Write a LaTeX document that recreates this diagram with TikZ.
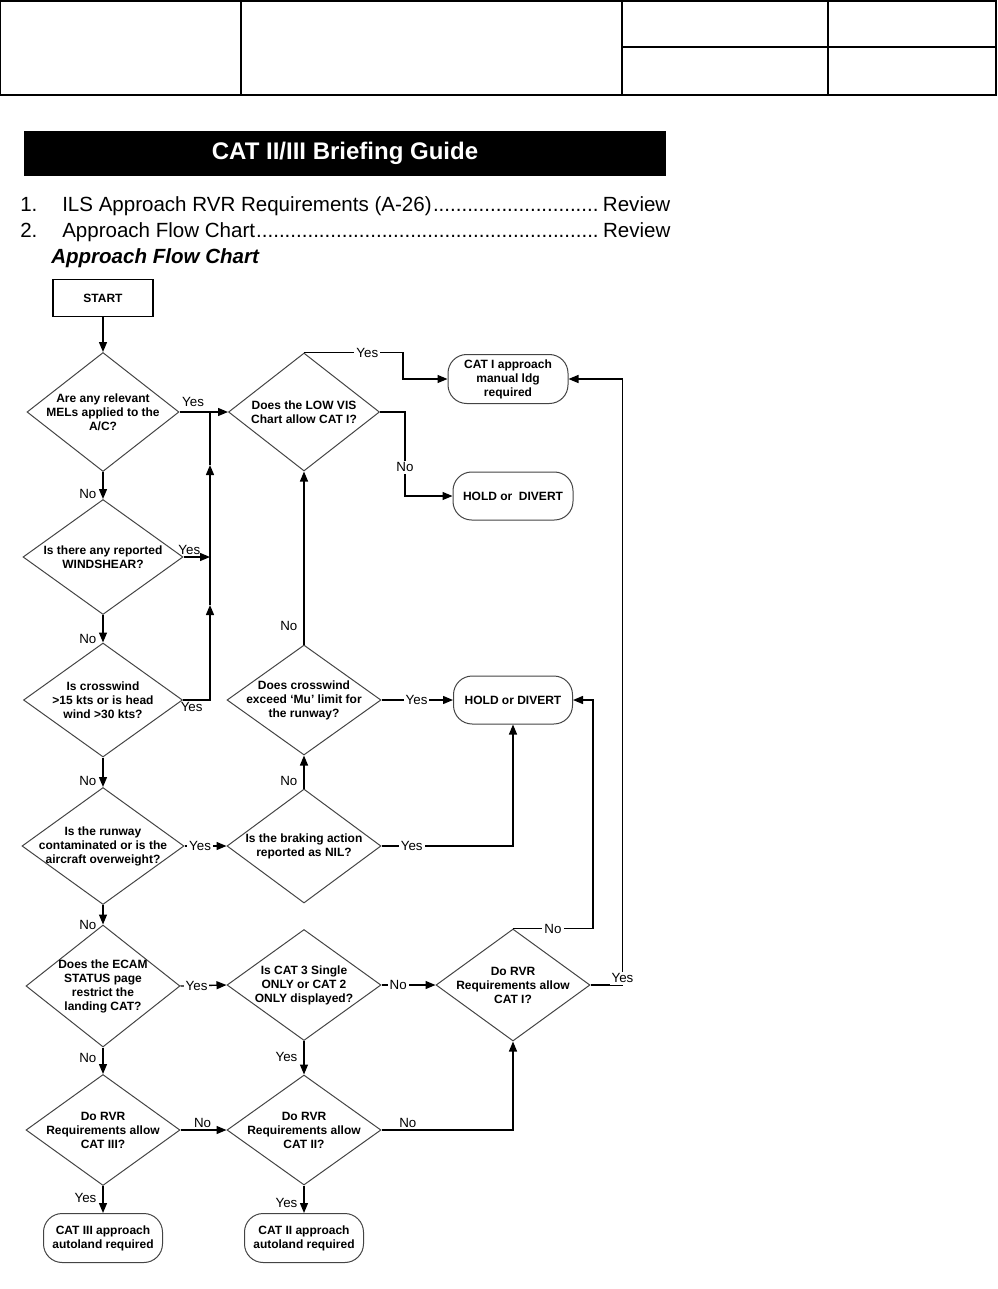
\documentclass[tikz,border=0pt]{standalone}
\usepackage{fontspec}
\setmainfont{Liberation Sans}
\usetikzlibrary{shapes.geometric,arrows.meta}
\definecolor{diagray}{HTML}{444444}
\newcommand\listfont{\fontsize{15.4}{18}\selectfont}
\newcommand\nodefont{\bfseries\fontsize{9}{10.5}\selectfont}
\tikzset{
  dia/.style 2 args={diamond, draw=diagray, line width=0.75pt, inner sep=0pt,
    minimum width=#1*0.75pt, minimum height=#2*0.75pt},
  dtext/.style={font=\nodefont, align=center, inner sep=0pt},
  term/.style 2 args={rectangle, rounded corners=14pt, draw=diagray, line width=0.75pt,
    minimum width=#1*0.75pt, minimum height=#2*0.75pt, align=center, inner sep=0pt, font=\nodefont},
  startbox/.style={rectangle, draw, line width=1pt, minimum width=100*0.75pt,
    minimum height=37*0.75pt, font=\nodefont},
  conn/.style={line width=1pt},
  arr/.style={conn, -{Triangle[length=7.5pt,width=6pt]}},
  lab/.style={font=\fontsize{10}{12}\selectfont, inner sep=1.5pt},
  labw/.style={lab, fill=white},
  vlab/.style={lab, left, xshift=-3pt},
}
\begin{document}
\begin{tikzpicture}[x=0.75pt,y=-0.75pt]
\useasboundingbox (0,0) rectangle (997,1289);
% header table
\draw[line width=1pt] (0.7,1) rectangle (996,95);
\draw[line width=1pt] (241,1) -- (241,95) (622,1) -- (622,95) (828,1) -- (828,95) (622,47) -- (996,47);
% title bar and list
\node[fill=black, minimum width=642*0.75pt, minimum height=45*0.75pt, inner sep=0pt,
      text=white, font=\bfseries\fontsize{18}{20}\selectfont] (title) at (345,153.5) {CAT II/III Briefing Guide};
\node[anchor=base west, inner sep=0pt, font=\listfont] (n1) at (20,211) {1.};
\node[anchor=base west, inner sep=0pt, font=\listfont] (i1) at (62,211)
  {\hbox to 456pt{ILS Approach RVR Requirements (A-26)\leaders\hbox{.}\hfill Review}};
\node[anchor=base west, inner sep=0pt, font=\listfont] (n2) at (20,237) {2.};
\node[anchor=base west, inner sep=0pt, font=\listfont] (i2) at (62,237)
  {\hbox to 456pt{Approach Flow Chart\leaders\hbox{.}\hfill Review}};
\node[anchor=base west, inner sep=0pt, font=\bfseries\itshape\fontsize{15.4}{18}\selectfont] (head) at (51,263) {Approach Flow Chart};

% flowchart nodes
\node[startbox] (start) at (103,298) {START};
\node[dia={152}{119}, label={[dtext]center:{Are any relevant\\MELs applied to the\\A/C?}}] (d1) at (103,412) {};
\node[dia={160}{115}, label={[dtext]center:{Is there any reported\\WINDSHEAR?}}] (d2) at (103,557) {};
\node[dia={159}{114}, label={[dtext]center:{Is crosswind\\>15 kts or is head\\wind >30 kts?}}] (d3) at (103,700) {};
\node[dia={162}{117}, label={[dtext]center:{Is the runway\\contaminated or is the\\aircraft overweight?}}] (d4) at (103,846) {};
\node[dia={154}{122}, label={[dtext]center:{Does the ECAM\\STATUS page\\restrict the\\landing CAT?}}] (d5) at (103,986) {};
\node[dia={154}{111}, label={[dtext]center:{Do RVR\\Requirements allow\\CAT III?}}] (d6) at (103,1130) {};
\node[term={119}{49}] (t1) at (103,1238) {CAT III approach\\autoland required};

\node[dia={151}{118}, label={[dtext]center:{Does the LOW VIS\\Chart allow CAT I?}}] (m1) at (304,412) {};
\node[dia={154}{110}, label={[dtext]center:{Does crosswind\\exceed ‘Mu’ limit for\\the runway?}}] (m2) at (304,700) {};
\node[dia={154}{114}, label={[dtext]center:{Is the braking action\\reported as NIL?}}] (m3) at (304,846) {};
\node[dia={154}{111}, label={[dtext]center:{Is CAT 3 Single\\ONLY or CAT 2\\ONLY displayed?}}] (m4) at (304,985) {};
\node[dia={154}{110}, label={[dtext]center:{Do RVR\\Requirements allow\\CAT II?}}] (m5) at (304,1130) {};
\node[term={119}{49}] (t2) at (304,1238) {CAT II approach\\autoland required};

\node[term={120}{49}] (r1) at (508,379) {CAT I approach\\manual ldg\\required};
\node[term={120}{48}] (r2) at (513,496) {HOLD or\ \ DIVERT};
\node[term={119}{48}] (r3) at (513,700) {HOLD or DIVERT};
\node[dia={154}{112}, label={[dtext]center:{Do RVR\\Requirements allow\\CAT I?}}] (r4) at (513,985) {};

% junction coordinates
\coordinate (j1) at (210,412);
\coordinate (j2) at (210,557);
\coordinate (ja) at (210,605);
\coordinate (jb) at (210,465);

% left column
\draw[arr] (start.south) -- (d1.north);
\draw[arr] (d1.south) -- node[vlab,pos=0.8]{No} (d2.north);
\draw[arr] (d2.south) -- node[vlab,pos=0.86]{No} (d3.north);
\draw[arr] (d3.south) -- node[vlab,pos=0.8]{No} (d4.north);
\draw[arr] (d4.south) -- node[vlab,pos=1]{No} (d5.north);
\draw[arr] (d5.south) -- node[vlab,pos=0.4]{No} (d6.north);
\draw[arr] (d6.south) -- node[vlab,pos=0.46]{Yes} (t1.north);

% Yes branches to the LOW VIS chart
\draw[arr] (d1.east) -- node[lab,above,pos=0.28,yshift=2pt]{Yes} (m1.west);
\draw[arr] (d2.east) -- node[lab,above,pos=0.22]{Yes} (j2);
\draw[arr] (d3.east) -| node[lab,below,pos=0.16]{Yes} (ja);
\draw[arr] (ja) -- (jb);
\draw[conn] (jb) -- (j1);

% middle column
\draw[arr] (d4.east) -- node[labw,pos=0.37]{Yes} (m3.west);
\draw[arr] (d5.east) -- node[labw,pos=0.35]{Yes} (m4.west);
\draw[arr] (d6.east) -- node[lab,above,pos=0.48]{No} (m5.west);
\draw[arr] (m3.north) -- node[vlab,pos=0.23]{No} (m2.south);
\draw[arr] (m2.north) -- node[vlab,pos=0.11]{No} (m1.south);
\draw[arr] (m4.south) -- node[vlab,pos=0.49]{Yes} (m5.north);
\draw[arr] (m5.south) -- node[vlab,pos=0.65]{Yes} (t2.north);

% to the right column
\draw[arr] (m1.north) -- node[labw,pos=0.64]{Yes} ++(99,0) |- (r1.west);
\draw[arr] (m1.east) -- ++(25,0) |- node[labw,pos=0.33]{No} (r2.west);
\draw[arr] (m2.east) -- node[labw,pos=0.49]{Yes} (r3.west);
\draw[arr] (m3.east) -| node[labw,pos=0.115]{Yes} (r3.south);
\draw[arr] (m4.east) -- node[labw,pos=0.31]{No} (r4.west);
\draw[arr] (m5.east) -| node[lab,above,pos=0.1]{No} (r4.south);
\draw[arr] (r4.north) -- node[labw,pos=0.5]{No} ++(80,0) |- (r3.east);
\draw[arr] (r4.east) -- ++(32,0) |- node[labw,pos=0,yshift=5pt]{Yes} (r1.east);
\end{tikzpicture}
\end{document}
